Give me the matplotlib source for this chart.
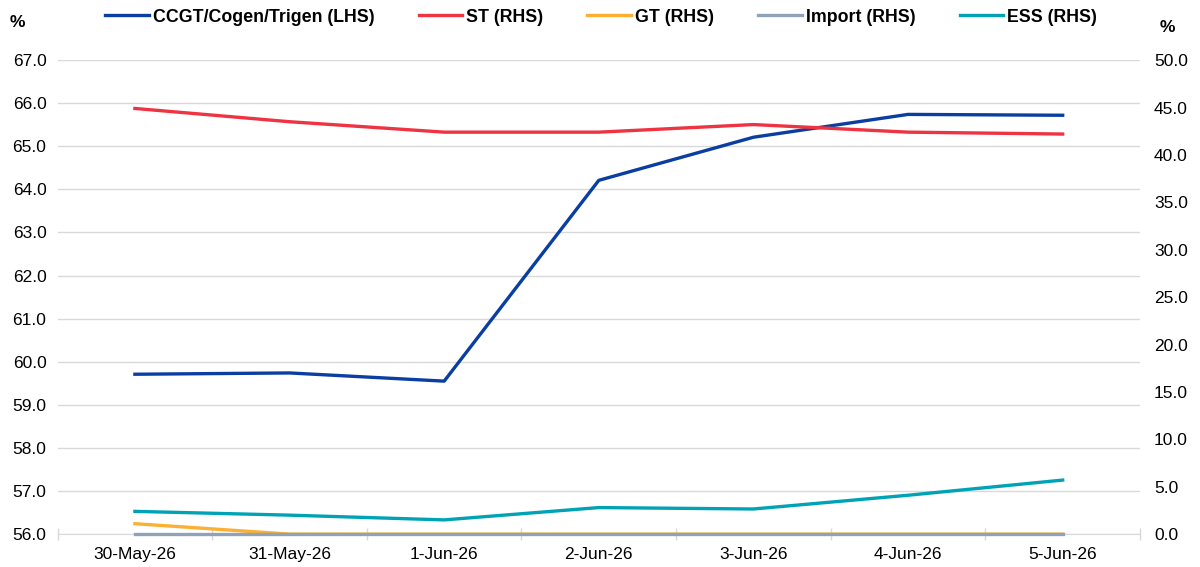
import numpy as np
import matplotlib
matplotlib.use("Agg")
import matplotlib.pyplot as plt
from matplotlib.ticker import FixedLocator

plt.rcParams["font.family"] = ["Liberation Sans", "DejaVu Sans"]

# ================= DATA =================

dates = ["30-May-26", "31-May-26", "1-Jun-26", "2-Jun-26", "3-Jun-26", "4-Jun-26", "5-Jun-26"]

ccgt = [59.71, 59.74, 59.55, 64.21, 65.21, 65.74, 65.72]   # LHS
st = [44.9, 43.5, 42.4, 42.4, 43.2, 42.4, 42.2]             # RHS
gt = [1.1, 0.0, 0.0, 0.0, 0.0, 0.0, 0.0]                    # RHS
imports = [0.0, 0.0, 0.0, 0.0, 0.0, 0.0, 0.0]               # RHS
ess = [2.4, 2.0, 1.5, 2.8, 2.65, 4.1, 5.7]                  # RHS

# ================= PLOT =================

fig = plt.figure(figsize=(12, 5.67), dpi=100)
ax = fig.add_axes([0.048, 0.058, 0.902, 0.836])
ax2 = ax.twinx()

x = np.arange(len(dates))
grid_col = "#D9D9D9"

# RHS axis in front so its lines at 0 sit over the bottom spine
ax2.set_zorder(ax.get_zorder() + 1)
ax2.patch.set_visible(False)

l2, = ax2.plot(x, st, color="#EE3342", lw=2.4, label="ST (RHS)")
l3, = ax2.plot(x, gt, color="#FBB034", lw=2.4, label="GT (RHS)", clip_on=False)
l4, = ax2.plot(x, imports, color="#8FA3B8", lw=2.4, label="Import (RHS)", clip_on=False)
l5, = ax2.plot(x, ess, color="#00A3B5", lw=2.4, label="ESS (RHS)")
l1, = ax.plot(x, ccgt, color="#0A3EA0", lw=2.4, label="CCGT/Cogen/Trigen (LHS)")

ax.set_xlim(-0.5, 6.5)
ax.set_ylim(56, 67)
ax2.set_ylim(0, 50)
ax.set_yticks(np.arange(56, 67.5, 1))
ax2.set_yticks(np.arange(0, 50.5, 5))
ax.set_yticklabels([f"{v:.1f}" for v in np.arange(56, 67.5, 1)])
ax2.set_yticklabels([f"{v:.1f}" for v in np.arange(0, 50.5, 5)])

ax.set_xticks(x)
ax.set_xticklabels(dates)
ax.xaxis.set_minor_locator(FixedLocator(np.arange(-0.5, 7, 1)))

ax.grid(axis="y", color=grid_col, lw=1)
ax.set_axisbelow(True)

for a in (ax, ax2):
    for s in a.spines.values():
        s.set_visible(False)
ax.spines["bottom"].set_visible(True)
ax.spines["bottom"].set_color(grid_col)

ax.tick_params(axis="y", length=0, pad=8, labelsize=12.5, colors="#000000")
ax2.tick_params(axis="y", length=0, pad=10, labelsize=12.5, colors="#000000")
ax.tick_params(axis="x", which="major", length=0, pad=9, labelsize=12.5)
ax.tick_params(axis="x", which="minor", length=9, direction="inout", color=grid_col, width=1)

fig.text(0.008, 0.96, "%", fontsize=12.5, fontweight="bold", ha="left", va="center")
fig.text(0.966, 0.952, "%", fontsize=12.5, fontweight="bold", ha="left", va="center")

fig.legend(handles=[l1, l2, l3, l4, l5], loc="center", bbox_to_anchor=(0.501, 0.970),
           ncol=5, frameon=False, handlelength=2.47, handletextpad=0.22,
           columnspacing=2.47, prop={"weight": "bold", "size": 12.8})

fig.savefig("out.png", dpi=100)
